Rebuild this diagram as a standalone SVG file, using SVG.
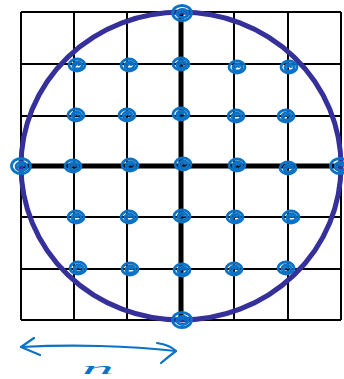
<svg xmlns="http://www.w3.org/2000/svg" xmlns:xlink="http://www.w3.org/1999/xlink" width="344" height="379" viewBox="0 0 344 379">
<style>
.grid{stroke:#000;stroke-width:2;fill:none}
.axis{stroke:#000;stroke-width:5;fill:none}
.circ{stroke:#35309a;stroke-width:5;fill:none}
.ink{stroke:#0b72c5;stroke-width:2.2;fill:none;stroke-linecap:round;stroke-linejoin:round}
.dk{stroke:#0b72c5;stroke-width:2.8;fill:none}
.lbl{font-family:"Liberation Serif",serif;font-style:italic;font-size:17px;fill:#0b72c5}
</style>
<defs>
<g id="dot">
<ellipse cx="0" cy="0" rx="8" ry="6" class="dk"/>
<ellipse cx="0.5" cy="0.5" rx="4.5" ry="3.5" class="dk"/>
<path d="M-2,1 Q0,-2 2,0" class="ink"/>
</g>
<g id="bigdot">
<ellipse cx="0" cy="0" rx="9.5" ry="7.5" class="dk" stroke-width="3.5"/>
<ellipse cx="0.5" cy="0.5" rx="5.5" ry="4" class="dk"/>
<path d="M-3,1 Q0,-3 3,0" class="ink"/>
</g>
</defs>
<rect width="344" height="379" fill="#fff"/>
<g id="grid">
<path class="grid" d="M21,12V320M74,12V320M127,12V320M234,12V320M288,12V320M341,12V320"/>
<path class="grid" d="M21,12H341M21,64H341M21,116H341M21,217H341M21,269H341M21,320H341"/>
<path class="axis" d="M181,12V320M21,166H341"/>
</g>
<g id="circle">
<ellipse class="circ" cx="181" cy="166" rx="160" ry="154"/>
</g>
<g id="points">
<use xlink:href="#bigdot" x="182" y="13"/>
<use xlink:href="#bigdot" x="182" y="320"/>
<use xlink:href="#bigdot" x="21" y="166"/>
<use xlink:href="#bigdot" x="340" y="166"/>
<use xlink:href="#dot" x="77" y="65"/>
<use xlink:href="#dot" x="129" y="65"/>
<use xlink:href="#dot" x="181" y="64"/>
<use xlink:href="#dot" x="237" y="67"/>
<use xlink:href="#dot" x="289" y="67"/>
<use xlink:href="#dot" x="76" y="115"/>
<use xlink:href="#dot" x="127" y="115"/>
<use xlink:href="#dot" x="181" y="114"/>
<use xlink:href="#dot" x="236" y="116"/>
<use xlink:href="#dot" x="286" y="116"/>
<use xlink:href="#dot" x="73" y="166"/>
<use xlink:href="#dot" x="130" y="165"/>
<use xlink:href="#dot" x="183" y="164"/>
<use xlink:href="#dot" x="237" y="165"/>
<use xlink:href="#dot" x="288" y="168"/>
<use xlink:href="#dot" x="76" y="217"/>
<use xlink:href="#dot" x="129" y="217"/>
<use xlink:href="#dot" x="182" y="216"/>
<use xlink:href="#dot" x="235" y="217"/>
<use xlink:href="#dot" x="291" y="217"/>
<use xlink:href="#dot" x="78" y="268"/>
<use xlink:href="#dot" x="130" y="269"/>
<use xlink:href="#dot" x="182" y="270"/>
<use xlink:href="#dot" x="234" y="269"/>
<use xlink:href="#dot" x="286" y="268"/>
</g>
<g id="connectors">
<path class="ink" d="M21,347 Q60,345 100,346 Q140,347 176,351"/>
<path class="ink" d="M34,338 L21,347 L40,355"/>
<path class="ink" d="M157,343 Q170,345 176,351 Q168,357 161,363"/>
</g>
<g id="label">
<text class="lbl" x="82" y="374" textLength="32" lengthAdjust="spacingAndGlyphs">n</text>
</g>
</svg>
